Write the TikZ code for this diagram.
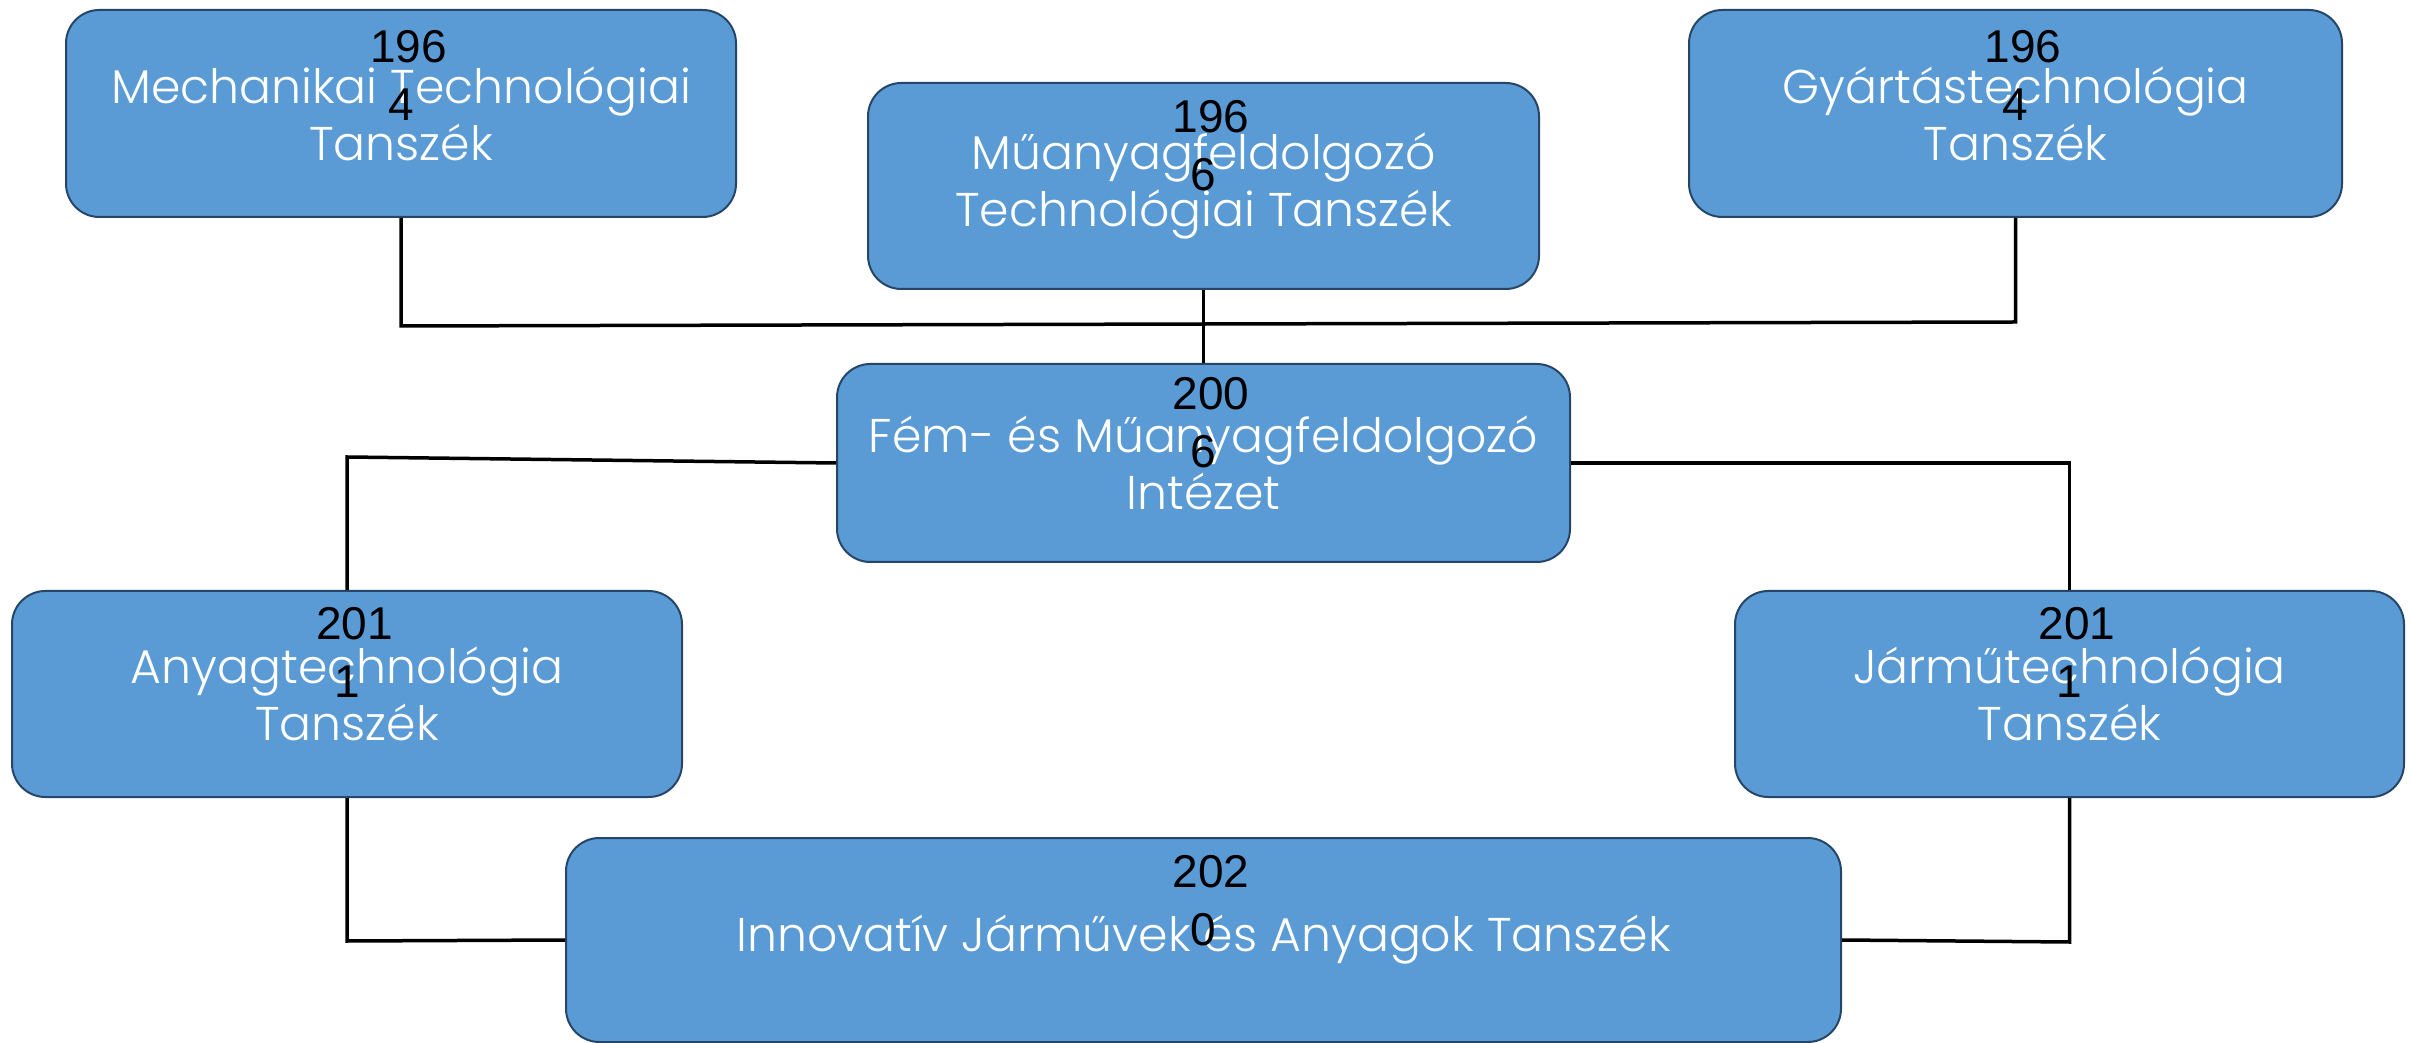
\documentclass[tikz,border=0pt]{standalone}
\usepackage{fontspec}
\setmainfont{Poppins}[UprightFont=* Light]
\newfontfamily\yearfont{Liberation Sans}
\definecolor{boxfill}{RGB}{91,155,213}
\definecolor{boxline}{RGB}{38,70,104}
\newcommand{\yr}[2]{\hspace*{4.5pt}#1\\#2}
\begin{document}
\begin{tikzpicture}[x=0.3pt,y=-0.3pt,
  unit/.style={draw=boxline, line width=0.6pt, fill=boxfill, rounded corners=10pt,
    text=white, align=center, inner sep=0pt,
    font=\fontsize{14.2pt}{17.1pt}\selectfont},
  year/.style={text=black, align=center, inner sep=0pt,
    font=\yearfont\fontsize{13.8pt}{17.4pt}\selectfont},
  link/.style={draw=black, line width=1.05pt, line join=miter}]
\useasboundingbox (0,0) rectangle (2412,1043);

% units of the institute
\node[unit, minimum width=201pt, minimum height=62.1pt] (mech) at (401,113.5)
  {Mechanikai Technológiai\\Tanszék};
\node[unit, minimum width=201.3pt, minimum height=61.8pt] (muanyag) at (1203.5,186)
  {Műanyagfeldolgozó\\Technológiai Tanszék};
\node[unit, minimum width=195.9pt, minimum height=62.1pt] (gyartas) at (2015.5,113.5)
  {Gyártástechnológia\\Tanszék};
\node[unit, minimum width=219.9pt, minimum height=59.4pt] (fem) at (1203.5,463)
  {Fém- és Műanyagfeldolgozó\\Intézet};
\node[unit, minimum width=201pt, minimum height=61.8pt] (anyag) at (347,694)
  {Anyagtechnológia\\Tanszék};
\node[unit, minimum width=200.7pt, minimum height=61.8pt] (jarmu) at (2069.5,694)
  {Járműtechnológia\\Tanszék};
\node[unit, minimum width=382.5pt, minimum height=61.2pt] (innov) at (1203.5,940)
  {Innovatív Járművek és Anyagok Tanszék};

% founding years
\node[year] (mechY)    at ([yshift=11.3pt]mech.center)    {\yr{196}{4}};
\node[year] (muanyagY) at ([yshift=12pt]muanyag.center)   {\yr{196}{6}};
\node[year] (gyartasY) at ([yshift=11.3pt]gyartas.center) {\yr{196}{4}};
\node[year] (femY)     at ([yshift=12pt]fem.center)       {\yr{200}{6}};
\node[year] (anyagY)   at ([yshift=12.6pt]anyag.center)   {\yr{201}{1}};
\node[year] (jarmuY)   at ([yshift=12.6pt]jarmu.center)   {\yr{201}{1}};
\node[year] (innovY)   at ([yshift=11.7pt]innov.center)   {\yr{202}{0}};

% connector corners
\coordinate (jl) at (401,326);
\coordinate (jr) at (2015.5,322);
\coordinate (ml) at (347,457);
\coordinate (mr) at (2069.5,463);
\coordinate (bl) at (347,941);
\coordinate (br) at (2069.5,942);

% connectors
\draw[link] (mech.south) -- (jl) -- (jr) -- (gyartas.south);
\draw[link] (muanyag.south) -- (fem.north);
\draw[link] (fem.west) -- (ml) -- (anyag.north);
\draw[link] (fem.east) -- (mr) -- (jarmu.north);
\draw[link] (anyag.south) -- (bl) -- (innov.west);
\draw[link] (jarmu.south) -- (br) -- (innov.east);
\end{tikzpicture}
\end{document}
